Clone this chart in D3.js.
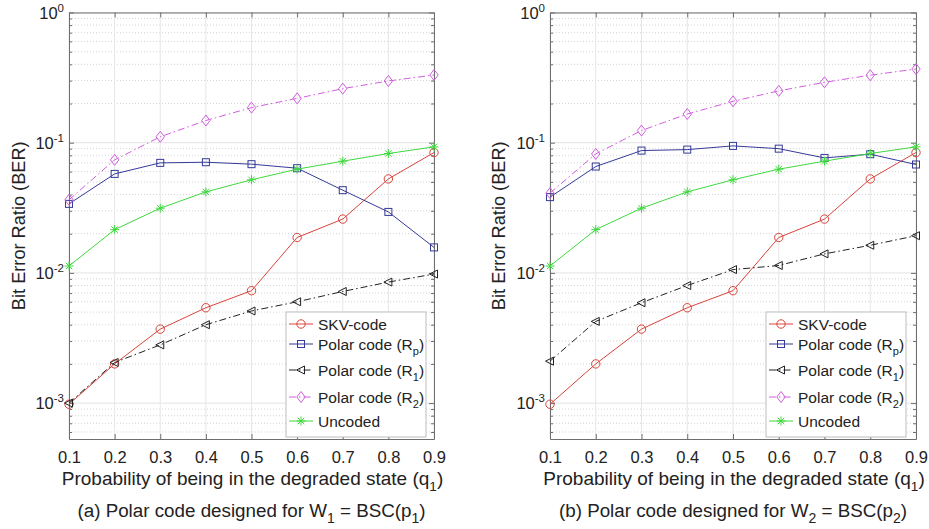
<!DOCTYPE html>
<html>
<head>
<meta charset="utf-8">
<script src="https://cdn.jsdelivr.net/npm/d3@7"></script>
<style>
  body { margin: 0; background: #fff; }
  svg { display: block; font-family: "Liberation Sans", Arial, sans-serif; }
</style>
</head>
<body>
<div id="chart"></div>
<script>
// Data
const qValues = [0.1, 0.2, 0.3, 0.4, 0.5, 0.6, 0.7, 0.8, 0.9];
const yDecades = [1e-3, 1e-2, 1e-1, 1];
const yDecadeLabels = ["-3", "-2", "-1", "0"];

const skvBER = [0.00098, 0.0020, 0.0037, 0.0054, 0.0073, 0.0187, 0.0259, 0.0527, 0.084];
const uncodedBER = [0.0113, 0.0215, 0.0314, 0.0419, 0.0519, 0.0626, 0.0721, 0.0826, 0.0929];

const polarRpA = [0.0339, 0.0576, 0.0700, 0.0708, 0.0684, 0.0637, 0.0432, 0.0294, 0.0157];
const polarR1A = [0.00100, 0.00205, 0.0028, 0.0040, 0.0051, 0.0060, 0.0072, 0.0085, 0.0098];
const polarR2A = [0.0364, 0.0738, 0.111, 0.148, 0.186, 0.219, 0.260, 0.298, 0.331];

const polarRpB = [0.0382, 0.0656, 0.087, 0.0885, 0.0945, 0.090, 0.0764, 0.0816, 0.068];
const polarR1B = [0.0021, 0.00424, 0.0059, 0.0080, 0.0106, 0.0114, 0.0140, 0.0163, 0.0193];
const polarR2B = [0.041, 0.082, 0.124, 0.166, 0.208, 0.250, 0.291, 0.330, 0.368];

const yMin = 5.3e-4;

// series styles (legend order)
const styles = [
    { key: "skv", name: ["SKV-code"], color: "#d8443b", dash: null, marker: "circle" },
    { key: "rp", name: ["Polar code (R", "p", ")"], color: "#353a98", dash: null, marker: "square" },
    { key: "r1", name: ["Polar code (R", "1", ")"], color: "#222", dash: "7,3,1.5,3", marker: "tri" },
    { key: "r2", name: ["Polar code (R", "2", ")"], color: "#d05ede", dash: "7,3,1.5,3", marker: "diamond" },
    { key: "unc", name: ["Uncoded"], color: "#3fd93f", dash: null, marker: "star" }
];

const panels = [
    { x0: 69, x1: 434, yLabelX: 19, legendX: 286,
      caption: ["(a) Polar code designed for W", "1", " = BSC(p", "1", ")"],
      series: { skv: skvBER, rp: polarRpA, r1: polarR1A, r2: polarR2A, unc: uncodedBER } },
    { x0: 550, x1: 916, yLabelX: 499, legendX: 766,
      caption: ["(b) Polar code designed for W", "2", " = BSC(p", "2", ")"],
      series: { skv: skvBER, rp: polarRpB, r1: polarR1B, r2: polarR2B, unc: uncodedBER } }
];

const plotTop = 12.5, plotBottom = 439;
const legendRows = [324, 344, 370, 397, 421];

const svg = d3.select("#chart").append("svg")
    .attr("width", 929).attr("height", 529);

function drawMarker(g, type, color) {
    if (type === "circle") {
        g.append("circle").attr("r", 4.2).attr("fill", "none").attr("stroke", color);
    } else if (type === "square") {
        g.append("rect").attr("x", -3.5).attr("y", -3.5).attr("width", 7).attr("height", 7)
            .attr("fill", "none").attr("stroke", color);
    } else if (type === "tri") {
        g.append("path").attr("d", "M-4.5,0L3.5,-4L3.5,4Z").attr("fill", "none").attr("stroke", color);
    } else if (type === "diamond") {
        g.append("path").attr("d", "M0,-5.5L4.2,0L0,5.5L-4.2,0Z").attr("fill", "none").attr("stroke", color);
    } else if (type === "star") {
        g.append("path").attr("d", "M-4.5,0H4.5M0,-4.5V4.5M-3.2,-3.2L3.2,3.2M-3.2,3.2L3.2,-3.2")
            .attr("fill", "none").attr("stroke", color);
    }
}

// text with alternating normal / subscript parts
function subText(sel, parts, subSize, shift) {
    parts.forEach((p, i) => {
        const t = sel.append("tspan").text(p);
        if (i % 2 === 1) {
            t.attr("font-size", subSize).attr("dy", shift);
        } else if (i > 0) {
            t.attr("dy", -shift);
        }
    });
}

panels.forEach(panel => {
    const x = d3.scaleLinear().domain([0.1, 0.9]).range([panel.x0, panel.x1]);
    const y = d3.scaleLog().domain([yMin, 1]).range([plotBottom, plotTop]);

    const g = svg.append("g");

    // minor values
    const minors = [];
    [1e-4, 1e-3, 1e-2, 1e-1].forEach(d => {
        for (let k = 2; k <= 9; k++) {
            const v = d * k;
            if (v >= yMin && v <= 1) minors.push(v);
        }
    });

    // grid
    g.append("g").selectAll("line").data(minors).enter().append("line")
        .attr("x1", panel.x0).attr("x2", panel.x1)
        .attr("y1", d => y(d)).attr("y2", d => y(d))
        .attr("stroke", "#d4d4d4").attr("stroke-dasharray", "1,2");
    g.append("g").selectAll("line").data(yDecades).enter().append("line")
        .attr("x1", panel.x0).attr("x2", panel.x1)
        .attr("y1", d => y(d)).attr("y2", d => y(d))
        .attr("stroke", "#e3e3e3");
    g.append("g").selectAll("line").data(qValues).enter().append("line")
        .attr("x1", d => x(d)).attr("x2", d => x(d))
        .attr("y1", plotTop).attr("y2", plotBottom)
        .attr("stroke", "#e6e6e6");

    // axes (ticks pointing inward)
    const axisColor = "#6e6e6e";
    const xb = g.append("g").attr("transform", `translate(0,${plotBottom})`)
        .call(d3.axisBottom(x).tickValues(qValues).tickFormat(d3.format(".1f"))
            .tickSizeInner(-5).tickSizeOuter(0).tickPadding(12.5));
    xb.selectAll("text").attr("font-size", 16.5).attr("fill", "#222");
    const xt = g.append("g").attr("transform", `translate(0,${plotTop})`)
        .call(d3.axisTop(x).tickValues(qValues).tickFormat("").tickSizeInner(-5).tickSizeOuter(0));
    const yl = g.append("g").attr("transform", `translate(${panel.x0},0)`)
        .call(d3.axisLeft(y).tickValues(yDecades).tickFormat("").tickSizeInner(-5).tickSizeOuter(0));
    const ylm = g.append("g").attr("transform", `translate(${panel.x0},0)`)
        .call(d3.axisLeft(y).tickValues(minors).tickFormat("").tickSizeInner(-3).tickSizeOuter(0));
    const yr = g.append("g").attr("transform", `translate(${panel.x1},0)`)
        .call(d3.axisRight(y).tickValues(yDecades).tickFormat("").tickSizeInner(-5).tickSizeOuter(0));
    const yrm = g.append("g").attr("transform", `translate(${panel.x1},0)`)
        .call(d3.axisRight(y).tickValues(minors).tickFormat("").tickSizeInner(-3).tickSizeOuter(0));
    [xb, xt, yl, ylm, yr, yrm].forEach(a => {
        a.selectAll("path, line").attr("stroke", axisColor);
    });
    [ylm, yrm].forEach(a => a.select("path").remove());

    // y tick labels 10^k
    yDecades.forEach((d, i) => {
        const t = g.append("text")
            .attr("x", panel.x0 - 5).attr("y", y(d) + 6)
            .attr("text-anchor", "end").attr("font-size", 16.5).attr("fill", "#222");
        t.append("tspan").text("10");
        t.append("tspan").text(yDecadeLabels[i]).attr("font-size", 11.5).attr("dy", -7);
    });

    // axis titles
    g.append("text")
        .attr("transform", `translate(${panel.yLabelX + 6},${(plotTop + plotBottom) / 2}) rotate(-90)`)
        .attr("text-anchor", "middle").attr("font-size", 18.2).attr("fill", "#222")
        .text("Bit Error Ratio (BER)");
    const xl = g.append("text")
        .attr("x", (panel.x0 + panel.x1) / 2 + 1).attr("y", 485)
        .attr("text-anchor", "middle").attr("font-size", 19).attr("fill", "#222");
    subText(xl, ["Probability of being in the degraded state (q", "1", ")"], 13.5, 6);
    const cap = g.append("text")
        .attr("x", (panel.x0 + panel.x1) / 2).attr("y", 517)
        .attr("text-anchor", "middle").attr("font-size", 18.8).attr("fill", "#222");
    subText(cap, panel.caption, 14, 6);

    // series
    const line = d3.line().x((d, i) => x(qValues[i])).y(d => y(d));
    styles.forEach(s => {
        const vals = panel.series[s.key];
        g.append("path").datum(vals)
            .attr("d", line).attr("fill", "none")
            .attr("stroke", s.color).attr("stroke-width", 1)
            .attr("stroke-dasharray", s.dash);
        vals.forEach((v, i) => {
            const m = g.append("g").attr("transform", `translate(${x(qValues[i])},${y(v)})`);
            drawMarker(m, s.marker, s.color);
        });
    });

    // legend
    const lx = panel.legendX;
    const lg = g.append("g");
    lg.append("rect").attr("x", lx).attr("y", 312).attr("width", 140).attr("height", 125)
        .attr("fill", "#fff").attr("stroke", "#bdbdbd");
    styles.forEach((s, i) => {
        const ry = legendRows[i];
        lg.append("line").attr("x1", lx + 3).attr("x2", lx + 27).attr("y1", ry).attr("y2", ry)
            .attr("stroke", s.color).attr("stroke-dasharray", s.dash);
        drawMarker(lg.append("g").attr("transform", `translate(${lx + 15},${ry})`), s.marker, s.color);
        const t = lg.append("text").attr("x", lx + 32).attr("y", ry + 5.5)
            .attr("font-size", 15.5).attr("fill", "#222");
        subText(t, s.name, 11, 5);
    });
});
</script>
</body>
</html>
